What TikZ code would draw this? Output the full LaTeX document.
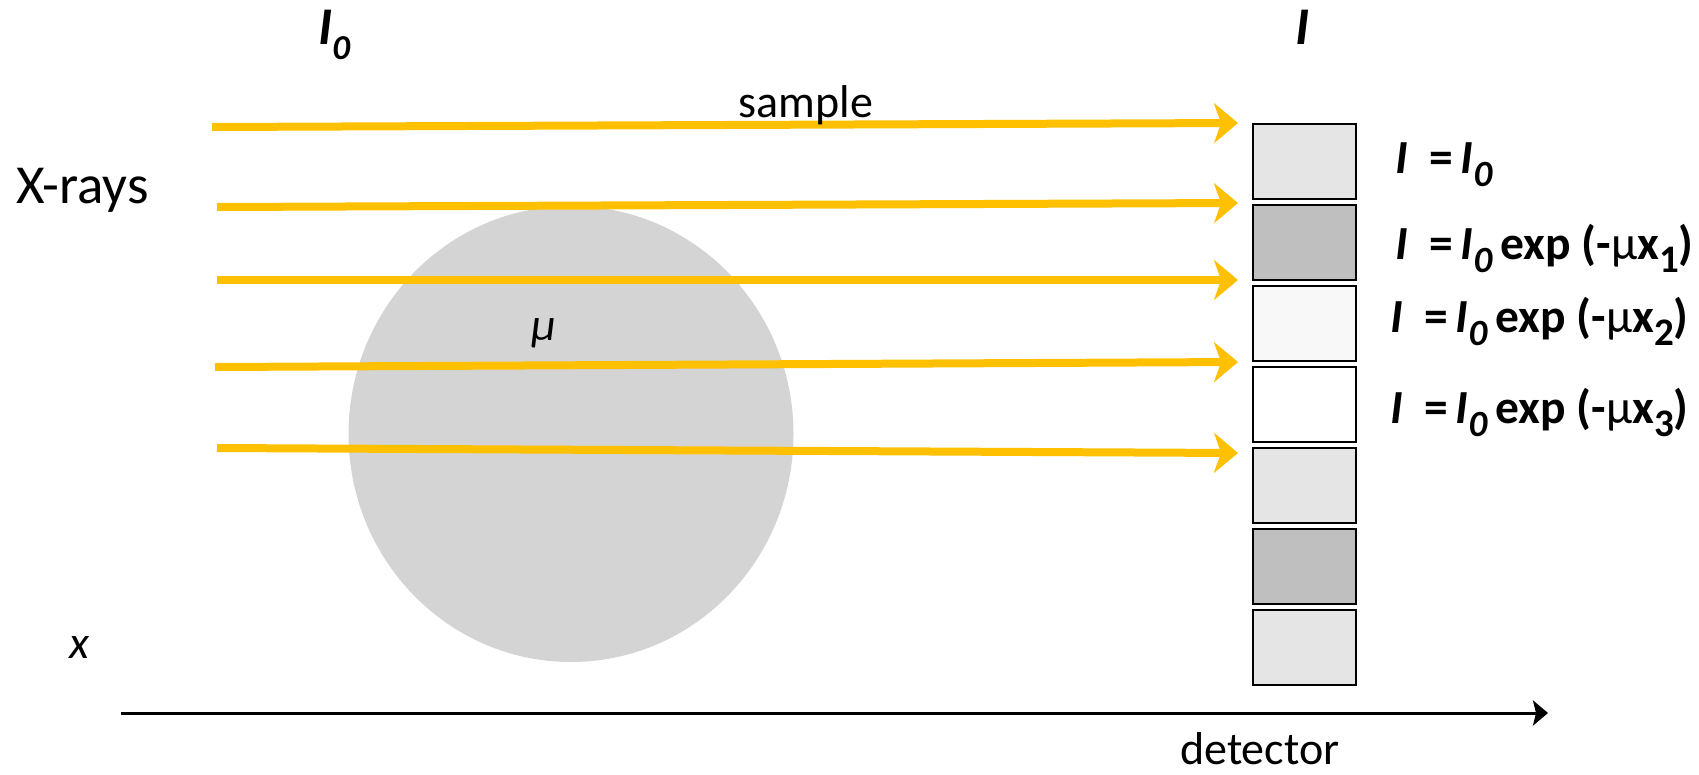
\documentclass[tikz,border=0pt]{standalone}
\usepackage{fontspec}
\setmainfont{Carlito}
\usetikzlibrary{arrows.meta}
\definecolor{raycol}{HTML}{FFC000}
\definecolor{samplegray}{HTML}{D4D4D4}
\definecolor{detA}{HTML}{E5E5E5}
\definecolor{detB}{HTML}{BFBFBF}
\definecolor{detC}{HTML}{F8F8F8}
\newcommand{\fs}[1]{\fontsize{#1}{#1}\selectfont}
\newcommand{\bi}[1]{\textbf{\textit{#1}}}
\newcommand{\eqlab}[1]{\bi{I}\ \ \textbf{=}\,\bi{I}\raisebox{-13pt}{\fs{37}\bi{0}}\,\textbf{exp (-}μ\textbf{x}\raisebox{-13pt}{\fs{39}\textbf{#1}}\textbf{)}}
\begin{document}
\begin{tikzpicture}[x=1pt,y=-1pt,
  xray/.style={draw=raycol, line width=8pt, -{Stealth[length=24pt,width=40pt,inset=7pt]}},
  axis/.style={draw=black, line width=3pt, -{Stealth[length=15pt,width=25pt,inset=3pt]}},
  detbox/.style={draw=black, line width=2.5pt, minimum width=103pt, minimum height=75pt, inner sep=0pt},
  lbl/.style={inner sep=0pt, anchor=base west, font=\fs{46}},
  big/.style={inner sep=0pt, anchor=base west, font=\fs{55}},
  eq/.style={inner sep=0pt, anchor=base west, font=\fs{47.5}}]
\useasboundingbox (0,0) rectangle (1699,774);
% sample
\fill[samplegray] (571,434) ellipse [x radius=222.5, y radius=228];
% detector boxes
\foreach \i/\c in {0/detA,1/detB,2/detC,3/white,4/detA,5/detB,6/detA}{
  \node[detbox, fill=\c] (d\i) at (1304.5,{161.5+81*\i}) {};
}
% rays
\coordinate (s1) at (212,127); \coordinate (e1) at (1238,123);
\coordinate (s2) at (217,207); \coordinate (e2) at (1238,203);
\coordinate (s3) at (217,280); \coordinate (e3) at (1238,280);
\coordinate (s4) at (215,367); \coordinate (e4) at (1238,362);
\coordinate (s5) at (217,448); \coordinate (e5) at (1238,453);
\foreach \k in {1,...,5}{ \draw[xray] (s\k) -- (e\k); }
% axis
\coordinate (a0) at (121,713); \coordinate (a1) at (1548,713);
\draw[axis] (a0) -- (a1);
% labels
\node[big] (xr) at (16,203) {X-rays};
\node[big, font=\fs{53}] (i0) at (318,44) {\bi{I}\raisebox{-15pt}{\fs{35}\bi{0}}};
\node[big, font=\fs{53}] (ii) at (1295,44) {\bi{I}};
\node[lbl, anchor=base] (smp) at (806,117) {sample};
\node[lbl] (mu) at (531,340) {\textit{μ}};
\node[lbl] (xx) at (69,658) {\textit{x}};
\node[lbl] (det) at (1180,764) {detector};
\node[eq] (q0) at (1395,173) {\bi{I}\ \ \textbf{=}\,\bi{I}\raisebox{-13pt}{\fs{37}\bi{0}}};
\node[eq] (q1) at (1395,259) {\eqlab{1}};
\node[eq] (q2) at (1390,332) {\eqlab{2}};
\node[eq] (q3) at (1390,423) {\eqlab{3}};
\end{tikzpicture}
\end{document}
